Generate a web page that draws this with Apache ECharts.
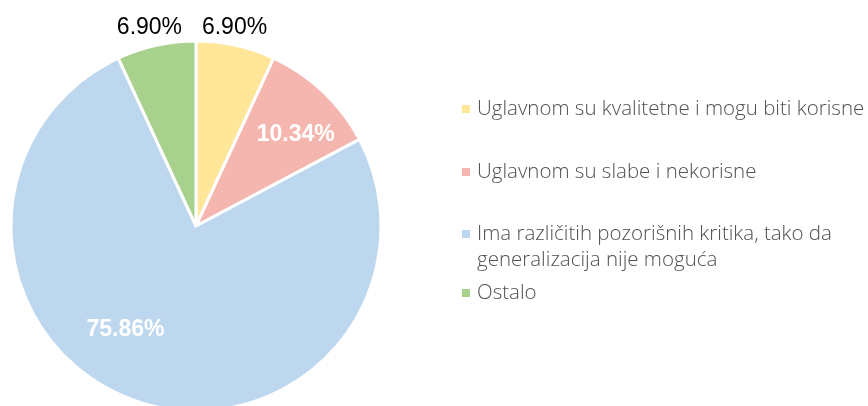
<!DOCTYPE html>
<html>
<head>
<meta charset="utf-8">
<script src="https://cdn.jsdelivr.net/npm/echarts@6/dist/echarts.min.js"></script>
<style>
  html, body { margin: 0; padding: 0; background: #fff; }
  #chart { width: 868px; height: 406px; }
</style>
</head>
<body>
<div id="chart"></div>
<script>
// answers, in clockwise order from the top
const categories = [
  'Uglavnom su kvalitetne i mogu biti korisne',
  'Uglavnom su slabe i nekorisne',
  'Ima različitih pozorišnih kritika, tako da\ngeneralizacija nije moguća',
  'Ostalo'
]
const shares = [6.90, 10.34, 75.86, 6.90]

const colors = ['#FFE699', '#F4B6AF', '#BDD7EE', '#A9D18E']

// label placement (offset from the slice's inside point)
const labelOffsets = [[18, -105], [34, -22], [-40, 13], [-26, -105]]
const labelOutside = [true, false, false, true]
// top of each legend block
const legendTops = [96, 159, 221, 280]

const chart = echarts.init(document.getElementById('chart'))

const pieData = categories.map((name, i) => ({
  name: name,
  value: shares[i],
  itemStyle: { color: colors[i] },
  label: labelOutside[i]
    ? { color: '#000', fontWeight: 'normal', offset: labelOffsets[i] }
    : { color: '#fff', fontWeight: 'bold', offset: labelOffsets[i] }
}))

// one legend per item so the spacing can follow the reference;
// the icon path carries an empty point so the square sits left/top
const legends = categories.map((name, i) => {
  const twoLines = name.indexOf('\n') >= 0
  return {
    data: [name],
    orient: 'vertical',
    left: 462,
    top: legendTops[i],
    padding: 0,
    icon: twoLines ? 'path://M0,0h8v8h-8zM10,34' : 'path://M0,0h8v8h-8zM10,8',
    itemWidth: 10,
    itemHeight: twoLines ? 34 : 8,
    itemStyle: { borderWidth: 0 },
    selectedMode: false,
    textStyle: {
      fontFamily: 'Open Sans',
      fontWeight: 300,
      fontSize: 20.5,
      lineHeight: 26,
      color: '#505050'
    }
  }
})

const option = {
  animation: false,
  legend: legends,
  series: [
    {
      type: 'pie',
      center: [196, 226],
      radius: [0, 185],
      startAngle: 90,
      clockwise: true,
      data: pieData,
      itemStyle: { borderColor: '#fff', borderWidth: 3 },
      label: {
        show: true,
        position: 'inside',
        fontFamily: 'Liberation Sans',
        fontSize: 23,
        formatter: p => p.value.toFixed(2) + '%'
      },
      labelLine: { show: false },
      emphasis: { disabled: true }
    }
  ]
}

chart.setOption(option)
</script>
</body>
</html>
